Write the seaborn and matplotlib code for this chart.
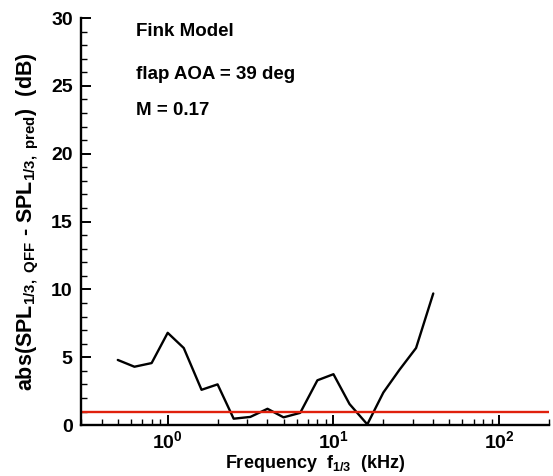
import numpy as np
import pandas as pd
import matplotlib
matplotlib.use("Agg")
import matplotlib.pyplot as plt
import seaborn as sns
from matplotlib.ticker import LogLocator, MultipleLocator, NullFormatter

freq_khz = [0.5, 0.63, 0.8, 1.0, 1.25, 1.6, 2.0, 2.5, 3.15, 4.0, 5.0, 6.3,
            8.0, 10.0, 12.5, 16.0, 20.0, 25.0, 31.5, 40.0]
abs_diff_db = [4.8, 4.3, 4.57, 6.8, 5.68, 2.6, 3.0, 0.47, 0.6, 1.2, 0.57, 0.9,
               3.3, 3.75, 1.55, 0.05, 2.4, 4.07, 5.68, 9.7]
threshold_db = 1.0
annotations = ["Fink Model", "flap AOA = 39 deg", "M = 0.17"]

sns.set_theme(style="ticks")
plt.rcParams['font.family'] = ['Liberation Sans', 'DejaVu Sans']
plt.rcParams['font.weight'] = 'bold'
plt.rcParams['text.color'] = 'black'
plt.rcParams['axes.labelcolor'] = 'black'
plt.rcParams['mathtext.fontset'] = 'custom'
plt.rcParams['mathtext.rm'] = 'Liberation Sans:bold'
plt.rcParams['mathtext.it'] = 'Liberation Sans:bold'
plt.rcParams['mathtext.bf'] = 'Liberation Sans:bold'

df = pd.DataFrame({"f": freq_khz, "d": abs_diff_db})

fig = plt.figure(figsize=(5.53, 4.76), dpi=100)
ax = fig.add_axes([0.1465, 0.107, 0.8465, 0.855])

sns.lineplot(data=df, x="f", y="d", ax=ax, color="black", linewidth=1.7)
ax.axhline(threshold_db, color="#e0200c", linewidth=1.7)

ax.set_xscale("log")
ax.set_xlim(0.3, 200)
ax.set_ylim(0, 30)

ax.yaxis.set_major_locator(MultipleLocator(5))
ax.yaxis.set_minor_locator(MultipleLocator(1))
ax.xaxis.set_major_locator(LogLocator(base=10, numticks=10))
ax.xaxis.set_minor_locator(LogLocator(base=10, subs=np.arange(2, 10), numticks=20))
ax.xaxis.set_minor_formatter(NullFormatter())

for side in ["top", "right"]:
    ax.spines[side].set_visible(False)
for side in ["left", "bottom"]:
    ax.spines[side].set_linewidth(1.7)
    ax.spines[side].set_color("black")

ax.tick_params(which="major", direction="in", length=7, width=1.4, labelsize=14,
               colors="black", pad=6)
ax.tick_params(axis="x", which="major", pad=4)
ax.tick_params(which="minor", direction="in", length=4, width=1.0, colors="black")
for lab in ax.get_xticklabels() + ax.get_yticklabels():
    lab.set_fontweight("bold")

ax.set_xlabel(r"Frequency  f$_{1/3}$  (kHz)", fontsize=13, fontweight="bold", labelpad=0)
ax.set_ylabel(r"abs(SPL$_{1/3,\ QFF}$ - SPL$_{1/3,\ pred}$)  (dB)", fontsize=15.5,
              fontweight="bold", labelpad=7)

ypos = [0.966, 0.862, 0.774]
for txt, yp in zip(annotations, ypos):
    ax.text(0.118, yp, txt, transform=ax.transAxes, fontsize=13.5, fontweight="bold",
            va="center", ha="left", color="black")

fig.savefig("out.png", dpi=100)
